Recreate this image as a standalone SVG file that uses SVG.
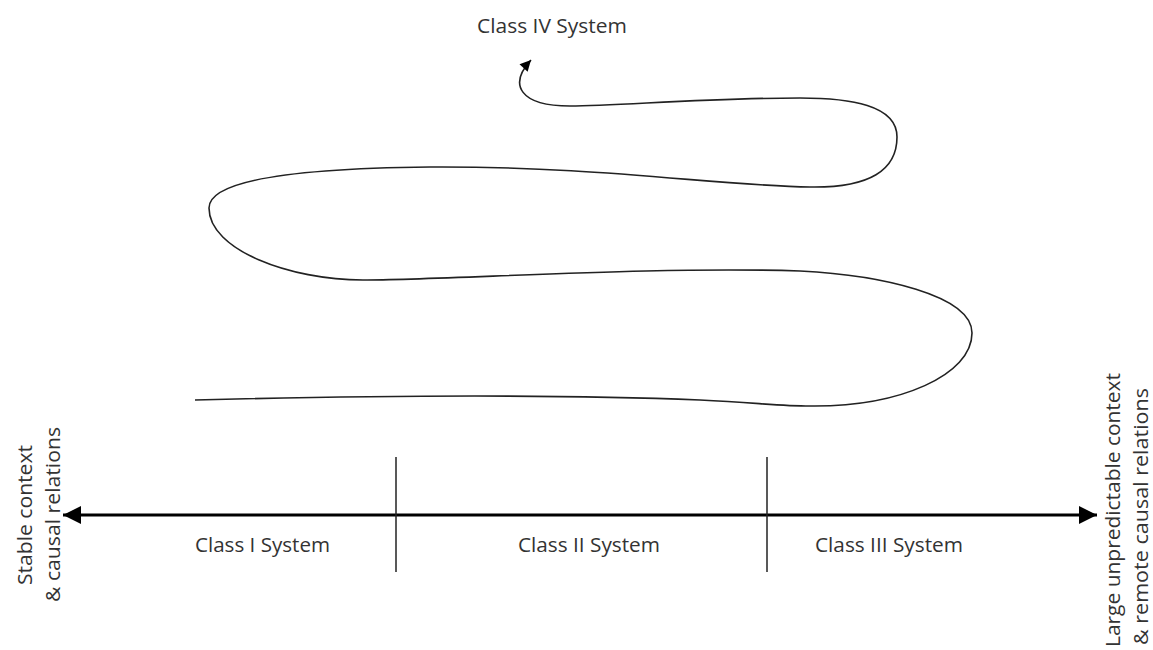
<svg xmlns="http://www.w3.org/2000/svg" width="1153" height="650" viewBox="0 0 1153 650">
  <style>
    .lbl { font-family: "Open Sans", "Liberation Sans", sans-serif; font-size: 20px; fill: #333; }
    .axis { stroke: #000; stroke-width: 3; fill: none; }
    .tick { stroke: #222; stroke-width: 1.5; fill: none; }
    .path { stroke: #222; stroke-width: 1.6; fill: none; }
  </style>
  <defs>
    <marker id="axHead" viewBox="0 0 10 10" refX="10" refY="5" markerUnits="userSpaceOnUse" markerWidth="28" markerHeight="18" orient="auto-start-reverse">
      <path d="M0,0 L10,5 L0,10 Z" fill="#000"/>
    </marker>
    <marker id="curveHead" viewBox="0 0 10 10" refX="10" refY="5" markerUnits="userSpaceOnUse" markerWidth="15" markerHeight="11" orient="auto">
      <path d="M0,0 L10,5 L0,10 Z" fill="#000"/>
    </marker>
  </defs>

  <rect width="1153" height="650" fill="#fff"/>

  <g id="connectors">
    <!-- context axis with arrows both ways -->
    <line class="axis" x1="63" y1="515" x2="1097" y2="515" marker-start="url(#axHead)" marker-end="url(#axHead)"/>
    <!-- class boundaries -->
    <line class="tick" x1="396" y1="457" x2="396" y2="572"/>
    <line class="tick" x1="767" y1="457" x2="767" y2="572"/>
    <!-- meandering evolution toward Class IV -->
    <path class="path" marker-end="url(#curveHead)" d="M195,400 C350,396 550,394 700,400 C760,403 780,406 810,406 C900,407 972,375 972,333 C972,295 880,275 800,271 C650,266 450,280 363,280 C290,280 209,250 209,208 C209,175 330,168 430,167 C600,166 720,186 810,187 C870,188 897,170 897,137 C897,105 850,98 800,98 C700,98 620,106 570,106 C520,106 508,85 531,60"/>
  </g>

  <g id="class-1">
    <text class="lbl" x="195" y="552" textLength="135" lengthAdjust="spacingAndGlyphs">Class I System</text>
  </g>
  <g id="class-2">
    <text class="lbl" x="518" y="552" textLength="142" lengthAdjust="spacingAndGlyphs">Class II System</text>
  </g>
  <g id="class-3">
    <text class="lbl" x="815" y="552" textLength="148" lengthAdjust="spacingAndGlyphs">Class III System</text>
  </g>
  <g id="class-4">
    <text class="lbl" x="477" y="33" textLength="150" lengthAdjust="spacingAndGlyphs">Class IV System</text>
  </g>
  <g id="stable-end">
    <text class="lbl" transform="translate(32,585) rotate(-90)" textLength="140" lengthAdjust="spacingAndGlyphs">Stable context</text>
    <text class="lbl" transform="translate(60,602) rotate(-90)" textLength="175" lengthAdjust="spacingAndGlyphs">&amp; causal relations</text>
  </g>
  <g id="unpredictable-end">
    <text class="lbl" transform="translate(1120,647) rotate(-90)" textLength="274" lengthAdjust="spacingAndGlyphs">Large unpredictable context</text>
    <text class="lbl" transform="translate(1148,645) rotate(-90)" textLength="257" lengthAdjust="spacingAndGlyphs">&amp; remote causal relations</text>
  </g>
</svg>
